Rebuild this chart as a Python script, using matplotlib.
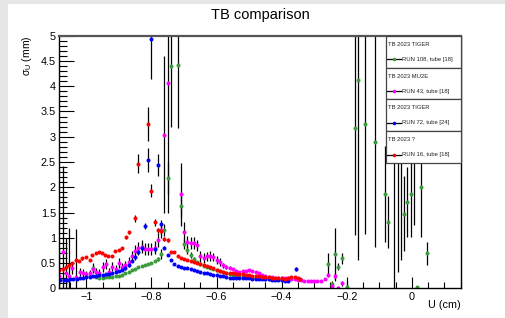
import matplotlib
matplotlib.use("Agg")
import matplotlib.pyplot as plt
from matplotlib.ticker import MultipleLocator
from matplotlib.patches import Rectangle
from matplotlib.lines import Line2D

plt.rcParams['font.family'] = ['Liberation Sans', 'DejaVu Sans']
plt.rcParams['mathtext.fontset'] = 'custom'
plt.rcParams['mathtext.rm'] = 'Liberation Sans'

# ---------------- data ----------------
title = "TB comparison"
xlabel = "U (cm)"
ylabel = "\u03c3$_{\\mathrm{U}}$ (mm)"

headers = ["TB 2023 TIGER", "TB 2023 MU2E", "TB 2023 TIGER", "TB 2023 ?"]
labels = ["RUN 108, tube [18]", "RUN 43, tube [18]", "RUN 72, tube [24]", "RUN 16, tube [18]"]
colors = ["#3c9c3c", "#ff00ff", "#0000ff", "#ff0000"]

# RUN 108 (green)
green_x = [-0.99, -0.98, -0.97, -0.96, -0.95, -0.94, -0.93, -0.92, -0.91, -0.90, -0.89, -0.88,
           -0.87, -0.86, -0.85, -0.84, -0.83, -0.82, -0.81, -0.80, -0.79, -0.78, -0.77, -0.76,
           -0.75, -0.74, -0.72, -0.71, -0.70, -0.69, -0.68, -0.67, -0.66, -0.65, -0.64, -0.63,
           -0.62, -0.61, -0.60, -0.59, -0.58, -0.57, -0.56, -0.55, -0.54, -0.53, -0.52, -0.51,
           -0.50, -0.49, -0.48, -0.47, -0.46, -0.45, -0.44, -0.43, -0.42, -0.41, -0.40,
           -0.257, -0.246, -0.236, -0.226, -0.216, -0.200,
           -0.175, -0.165, -0.144, -0.113, -0.083, -0.073, -0.054, -0.044, -0.034, -0.025,
           -0.014, -0.004, 0.006, 0.016, 0.027, 0.048]
green_y = [0.25, 0.41, 0.22, 0.21, 0.21, 0.22, 0.22, 0.23, 0.24, 0.24, 0.27, 0.30,
           0.33, 0.36, 0.39, 0.42, 0.44, 0.46, 0.48, 0.50, 0.55, 0.58, 0.68, 1.15,
           2.18, 4.40, 4.42, 1.62, 0.87, 0.76, 0.66, 0.58, 0.52, 0.48, 0.45, 0.42,
           0.40, 0.39, 0.37, 0.35, 0.33, 0.30, 0.28, 0.26, 0.25, 0.24, 0.23, 0.22,
           0.22, 0.21, 0.21, 0.20, 0.20, 0.19, 0.19, 0.18, 0.18, 0.18, 0.17,
           0.49, 0.09, 0.67, 0.43, 0.59, 0.03,
           3.18, 4.12, 3.25, 2.90, 1.87, 1.31, 3.50, 3.60, 3.30, 1.48,
           1.71, 1.86, 3.00, 0.02, 2.00, 0.69]
green_e = [0.02, 0.09, 0.01, 0.01, 0.01, 0.01, 0.01, 0.01, 0.01, 0.01, 0.01, 0.01,
           0.01, 0.01, 0.01, 0.02, 0.02, 0.02, 0.02, 0.02, 0.02, 0.03, 0.10, 0.12,
           0.32, 1.21, 1.24, 0.20, 0.10, 0.08, 0.06, 0.03, 0.02, 0.02, 0.02, 0.02,
           0.02, 0.01, 0.01, 0.01, 0.01, 0.01, 0.01, 0.01, 0.01, 0.01, 0.01, 0.01,
           0.01, 0.01, 0.01, 0.01, 0.01, 0.01, 0.01, 0.01, 0.01, 0.01, 0.01,
           0.20, 0.06, 0.52, 0.07, 0.10, 0.12,
           2.13, 3.56, 2.18, 2.09, 0.95, 0.52, 3.60, 3.27, 2.74, 0.75,
           0.70, 0.85, 1.75, 0.03, 0.99, 0.23]

# RUN 43 (magenta)
mag_x = [-1.084, -1.073, -1.063, -1.053, -1.043, -1.032, -1.02, -1.01, -1.00, -0.99, -0.98, -0.97,
         -0.96, -0.95, -0.94, -0.93, -0.92, -0.91, -0.90, -0.89, -0.88, -0.87, -0.86, -0.85,
         -0.84, -0.83, -0.82, -0.81, -0.80, -0.79, -0.78, -0.77, -0.761, -0.75, -0.71, -0.70,
         -0.69, -0.68, -0.67, -0.66, -0.65, -0.64, -0.63, -0.62, -0.61, -0.60, -0.59, -0.58,
         -0.57, -0.56, -0.55, -0.54, -0.53, -0.52, -0.51, -0.50, -0.49, -0.48, -0.47, -0.46,
         -0.45, -0.44, -0.43, -0.42, -0.41, -0.40, -0.39, -0.38, -0.37, -0.36, -0.35, -0.34,
         -0.33, -0.32, -0.31, -0.30, -0.29, -0.28, -0.267, -0.257, -0.246, -0.236, -0.226, -0.216]
mag_y = [0.24, 0.71, 0.30, 0.25, 0.41, 0.22, 0.33, 0.30, 0.28, 0.30, 0.38, 0.33,
         0.30, 0.43, 0.48, 0.33, 0.43, 0.38, 0.50, 0.42, 0.46, 0.52, 0.63, 0.73,
         0.79, 0.82, 0.78, 0.77, 0.77, 0.80, 0.96, 1.15, 3.04, 4.06, 1.86, 1.11,
         0.91, 0.90, 0.89, 0.85, 0.63, 0.60, 0.63, 0.64, 0.62, 0.56, 0.52, 0.46,
         0.43, 0.41, 0.38, 0.35, 0.33, 0.34, 0.35, 0.36, 0.35, 0.33, 0.30, 0.27,
         0.25, 0.23, 0.22, 0.21, 0.21, 0.20, 0.20, 0.20, 0.19, 0.18, 0.17, 0.16,
         0.15, 0.15, 0.15, 0.14, 0.14, 0.14, 0.18, 0.26, 0.05, 0.24, 0.00, 0.10]
mag_e = [0.56, 1.72, 0.70, 0.95, 0.12, 0.95, 0.08, 0.08, 0.07, 0.07, 0.08, 0.07,
         0.08, 0.10, 0.10, 0.07, 0.09, 0.08, 0.10, 0.08, 0.09, 0.09, 0.10, 0.12,
         0.12, 0.13, 0.12, 0.12, 0.12, 0.13, 0.14, 0.15, 1.55, 2.57, 0.63, 0.20,
         0.12, 0.12, 0.12, 0.11, 0.10, 0.09, 0.09, 0.09, 0.08, 0.07, 0.07, 0.05,
         0.04, 0.03, 0.02, 0.02, 0.02, 0.02, 0.02, 0.02, 0.02, 0.02, 0.02, 0.02,
         0.01, 0.01, 0.01, 0.01, 0.01, 0.01, 0.01, 0.01, 0.01, 0.01, 0.01, 0.01,
         0.01, 0.01, 0.01, 0.01, 0.01, 0.01, 0.02, 0.04, 0.05, 0.06, 0.04, 0.05]

# RUN 72 (blue)
blue_x = [-1.08, -1.07, -1.06, -1.05, -1.04, -1.03, -1.02, -1.01, -1.00, -0.99, -0.98, -0.97,
          -0.96, -0.95, -0.94, -0.93, -0.92, -0.91, -0.90, -0.89, -0.88, -0.87, -0.86, -0.85,
          -0.84, -0.83, -0.82, -0.81, -0.80, -0.79, -0.78, -0.77, -0.76, -0.75, -0.74, -0.73,
          -0.72, -0.71, -0.70, -0.69, -0.68, -0.67, -0.66, -0.65, -0.64, -0.63, -0.62, -0.61,
          -0.60, -0.59, -0.58, -0.57, -0.56, -0.55, -0.54, -0.53, -0.52, -0.51, -0.50, -0.49,
          -0.48, -0.47, -0.46, -0.45, -0.44, -0.43, -0.42, -0.41, -0.40, -0.39, -0.38, -0.357]
blue_y = [0.16, 0.17, 0.17, 0.18, 0.18, 0.19, 0.20, 0.21, 0.22, 0.23, 0.24, 0.25,
          0.26, 0.27, 0.28, 0.29, 0.30, 0.32, 0.34, 0.37, 0.41, 0.47, 0.55, 0.62,
          0.72, 0.80, 1.24, 2.54, 4.93, 0.78, 2.44, 1.27, 0.80, 0.66, 0.56, 0.49,
          0.44, 0.42, 0.41, 0.40, 0.38, 0.36, 0.35, 0.33, 0.31, 0.30, 0.29, 0.27,
          0.26, 0.25, 0.24, 0.22, 0.21, 0.20, 0.20, 0.20, 0.20, 0.20, 0.20, 0.19,
          0.19, 0.19, 0.18, 0.18, 0.18, 0.17, 0.17, 0.16, 0.16, 0.15, 0.15, 0.38]
blue_e = [0.01, 0.01, 0.01, 0.01, 0.01, 0.01, 0.01, 0.01, 0.01, 0.01, 0.01, 0.01,
          0.01, 0.01, 0.01, 0.01, 0.01, 0.01, 0.01, 0.01, 0.02, 0.02, 0.03, 0.05,
          0.06, 0.07, 0.06, 0.23, 0.79, 0.06, 0.21, 0.08, 0.03, 0.02, 0.02, 0.01,
          0.01, 0.01, 0.01, 0.01, 0.01, 0.01, 0.01, 0.01, 0.01, 0.01, 0.01, 0.01,
          0.01, 0.01, 0.01, 0.01, 0.01, 0.01, 0.01, 0.01, 0.01, 0.01, 0.01, 0.01,
          0.01, 0.01, 0.01, 0.01, 0.01, 0.01, 0.01, 0.01, 0.01, 0.01, 0.01, 0.04]

# RUN 16 (red)
red_x = [-1.084, -1.073, -1.063, -1.053, -1.043, -1.033, -1.023, -1.012, -1.00, -0.99, -0.982, -0.971,
         -0.962, -0.952, -0.942, -0.932, -0.921, -0.911, -0.90, -0.89, -0.879, -0.868, -0.852, -0.842,
         -0.811, -0.80, -0.79, -0.78, -0.77, -0.76, -0.75, -0.74, -0.73, -0.72, -0.71, -0.70,
         -0.69, -0.68, -0.67, -0.66, -0.65, -0.64, -0.63, -0.62, -0.61, -0.60, -0.59, -0.58,
         -0.57, -0.56, -0.55, -0.54, -0.53, -0.52, -0.51, -0.50, -0.49, -0.48, -0.47, -0.46,
         -0.45, -0.44, -0.43, -0.42, -0.41, -0.40, -0.39, -0.38, -0.37, -0.36, -0.35, -0.344]
red_y = [0.36, 0.38, 0.43, 0.47, 0.50, 0.56, 0.55, 0.59, 0.61, 0.56, 0.66, 0.69,
         0.71, 0.69, 0.66, 0.63, 0.64, 0.73, 0.75, 0.80, 1.01, 1.11, 1.39, 2.47,
         3.25, 1.93, 1.31, 1.15, 1.13, 0.97, 0.95, 0.71, 0.71, 0.63, 0.60, 0.58,
         0.56, 0.54, 0.53, 0.51, 0.49, 0.47, 0.45, 0.43, 0.40, 0.37, 0.34, 0.32,
         0.31, 0.30, 0.30, 0.29, 0.28, 0.28, 0.27, 0.26, 0.25, 0.24, 0.24, 0.23,
         0.22, 0.22, 0.21, 0.21, 0.20, 0.20, 0.19, 0.21, 0.22, 0.22, 0.21, 0.19]
red_e = [0.02, 0.02, 0.02, 0.02, 0.02, 0.02, 0.02, 0.02, 0.02, 0.02, 0.02, 0.02,
         0.02, 0.02, 0.02, 0.02, 0.02, 0.02, 0.02, 0.02, 0.03, 0.03, 0.07, 0.19,
         0.33, 0.13, 0.07, 0.05, 0.05, 0.04, 0.04, 0.02, 0.02, 0.02, 0.02, 0.02,
         0.01, 0.01, 0.01, 0.01, 0.01, 0.01, 0.01, 0.01, 0.01, 0.01, 0.01, 0.01,
         0.01, 0.01, 0.01, 0.01, 0.01, 0.01, 0.01, 0.01, 0.01, 0.01, 0.01, 0.01,
         0.01, 0.01, 0.01, 0.01, 0.01, 0.01, 0.01, 0.01, 0.01, 0.01, 0.01, 0.01]

xlim = (-1.085, 0.151)
ylim = (0.0, 5.0)

# ---------------- figure ----------------
W, H = 506, 318
fig = plt.figure(figsize=(W / 100, H / 100), dpi=100, facecolor="#e6e6e6")
fig.patches.append(Rectangle((8 / W, 0), 1 - 8 / W, 1 - 4 / H, transform=fig.transFigure,
                             facecolor="white", edgecolor="none", zorder=-5))

L, R, T, B = 58.7, 461.0, 35.7, 288.3
ax = fig.add_axes([L / W, 1 - B / H, (R - L) / W, (B - T) / H])
ax.set_zorder(2)
ax.set_facecolor("white")

series = [(green_x, green_y, green_e), (mag_x, mag_y, mag_e),
          (blue_x, blue_y, blue_e), (red_x, red_y, red_e)]
for (xs, ys, es), c in zip(series, colors):
    ax.errorbar(xs, ys, yerr=es, fmt="o", color=c, ecolor="black", elinewidth=0.9,
                capsize=0, markersize=2.9, markeredgewidth=0)

ax.set_xlim(*xlim)
ax.set_ylim(*ylim)
ax.xaxis.set_major_locator(MultipleLocator(0.2))
ax.xaxis.set_minor_locator(MultipleLocator(0.05))
ax.yaxis.set_major_locator(MultipleLocator(0.5))
ax.yaxis.set_minor_locator(MultipleLocator(0.1))
ax.tick_params(axis="both", which="both", direction="in", top=False, right=False,
               labelsize=7.8, width=0.8)
ax.tick_params(axis="x", which="major", length=8, pad=3)
ax.tick_params(axis="x", which="minor", length=4)
ax.tick_params(axis="y", which="major", length=11, pad=2)
ax.tick_params(axis="y", which="minor", length=6)
ax.set_xticks([-1, -0.8, -0.6, -0.4, -0.2, 0])
ax.set_xticklabels(["\u22121", "\u22120.8", "\u22120.6", "\u22120.4", "\u22120.2", "0"])
ax.set_yticks([0, 0.5, 1, 1.5, 2, 2.5, 3, 3.5, 4, 4.5, 5])
ax.set_yticklabels(["0", "0.5", "1", "1.5", "2", "2.5", "3", "3.5", "4", "4.5", "5"])
for s in ax.spines.values():
    s.set_linewidth(1.0)
ax.spines["top"].set_color("#555555")
ax.spines["top"].set_linewidth(1.6)

fig.text(260 / W, 1 - 15 / H, title, ha="center", va="center", fontsize=10.5)
fig.text(R / W, 1 - 305 / H, xlabel, ha="right", va="center", fontsize=7.8)
fig.text(27.5 / W, 1 - T / H, ylabel, ha="center", va="top", rotation=90, fontsize=7.5)

# legend: 4 stacked boxes
def ax_x(px):
    return (px - L) / (R - L)

def ax_y(py):
    return (B - py) / (B - T)

box_edges = [35.7, 67.7, 99.0, 131.0, 162.7]
for i in range(4):
    top, bot = box_edges[i], box_edges[i + 1]
    ax.add_patch(Rectangle((ax_x(385.7), ax_y(bot)), ax_x(R) - ax_x(385.7), ax_y(top) - ax_y(bot),
                           transform=ax.transAxes, facecolor="white", edgecolor="#444444",
                           linewidth=0.9, zorder=10, clip_on=False))
    ax.text(ax_x(388), ax_y(top + 8.6), headers[i], transform=ax.transAxes, fontsize=4.2,
            ha="left", va="center", zorder=11, color="#222222")
    ly = ax_y(top + 23.6)
    ax.add_line(Line2D([ax_x(387.3), ax_x(400.7)], [ly, ly], transform=ax.transAxes,
                       color="black", linewidth=0.9, zorder=11, clip_on=False))
    ax.add_line(Line2D([ax_x(394)], [ly], transform=ax.transAxes, marker="o", markersize=2.6,
                       markeredgewidth=0, color=colors[i], zorder=12, clip_on=False))
    ax.text(ax_x(402.5), ly, labels[i], transform=ax.transAxes, fontsize=4.2,
            ha="left", va="center", zorder=11, color="#222222")

fig.savefig("out.png", dpi=100, facecolor=fig.get_facecolor())
